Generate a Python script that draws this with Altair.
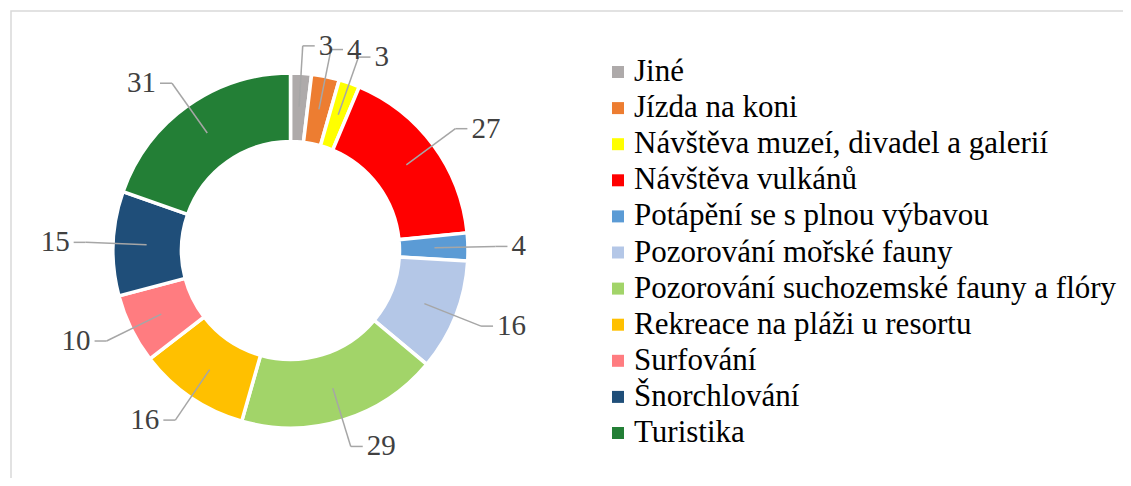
import altair as alt
import pandas as pd

categories = [
    "Jiné",
    "Jízda na koni",
    "Návštěva muzeí, divadel a galerií",
    "Návštěva vulkánů",
    "Potápění se s plnou výbavou",
    "Pozorování mořské fauny",
    "Pozorování suchozemské fauny a flóry",
    "Rekreace na pláži u resortu",
    "Surfování",
    "Šnorchlování",
    "Turistika",
]
values = [3, 4, 3, 27, 4, 16, 29, 16, 10, 15, 31]
colors = [
    "#AEAAAA", "#ED7D31", "#FFFF00", "#FF0000", "#5B9BD5", "#B4C7E7",
    "#A2D469", "#FFC000", "#FF7C80", "#1F4E79", "#237F36",
]

df = pd.DataFrame({"category": categories, "value": values, "order": list(range(len(values)))})

SERIF = "Liberation Serif"
W, H = 1115, 470
CX, CY = 282.5, 242.5
R_OUT, R_IN = 177.5, 109
R0, R1 = 144, 205
TAIL, GAP = 12, 4
# legend layout (plot-area pixels)
LEG_SYM_X, LEG_TXT_X, LEG_Y0, LEG_STEP = 610, 626, 64, 36.1

color_scale = alt.Scale(domain=categories, range=colors)

base = alt.Chart(df).transform_window(
    cum="sum(value)", sort=[{"field": "order"}], frame=[None, 0]
).transform_joinaggregate(
    total="sum(value)"
).transform_calculate(
    mid="(datum.cum - datum.value/2) / datum.total * 2 * PI",
).transform_calculate(
    s="sin(datum.mid)", c="cos(datum.mid)",
).transform_calculate(
    side="datum.s >= 0 ? 1 : -1",
    x0=f"{CX} + {R0} * datum.s",
    y0=f"{CY} - {R0} * datum.c",
    x1=f"{CX} + {R1} * datum.s",
    y1=f"{CY} - {R1} * datum.c",
).transform_calculate(
    x2=f"datum.x1 + {TAIL} * datum.side",
    lx=f"datum.x1 + ({TAIL} + {GAP}) * datum.side",
)

arcs = alt.Chart(df).mark_arc(
    radius=R_OUT, radius2=R_IN, stroke="white", strokeWidth=3.5
).encode(
    theta=alt.Theta("value:Q", stack=True),
    order=alt.Order("order:Q"),
    color=alt.Color("category:N", scale=color_scale, sort=categories, legend=None),
    x=alt.value(CX),
    y=alt.value(CY),
)

lead1 = base.mark_rule(color="#A6A6A6", strokeWidth=1.5).encode(
    x=alt.X("x0:Q", scale=None), y=alt.Y("y0:Q", scale=None),
    x2="x1:Q", y2="y1:Q",
)
lead2 = base.mark_rule(color="#A6A6A6", strokeWidth=1.5).encode(
    x=alt.X("x1:Q", scale=None), y=alt.Y("y1:Q", scale=None),
    x2="x2:Q", y2="y1:Q",
)

text_r = base.transform_filter("datum.side > 0").mark_text(
    align="left", baseline="middle", font=SERIF, fontSize=29, color="#404040"
).encode(x=alt.X("lx:Q", scale=None), y=alt.Y("y1:Q", scale=None), text="value:Q")
text_l = base.transform_filter("datum.side < 0").mark_text(
    align="right", baseline="middle", font=SERIF, fontSize=29, color="#404040"
).encode(x=alt.X("lx:Q", scale=None), y=alt.Y("y1:Q", scale=None), text="value:Q")

# legend drawn as marks
leg = alt.Chart(df).transform_calculate(ly=f"{LEG_Y0} + datum.order * {LEG_STEP}")
leg_sym = leg.mark_square(size=144, opacity=1).encode(
    x=alt.value(LEG_SYM_X),
    y=alt.Y("ly:Q", scale=None),
    color=alt.Color("category:N", scale=color_scale, sort=categories, legend=None),
)
leg_txt = leg.mark_text(
    align="left", baseline="middle", font=SERIF, fontSize=31, color="#000000"
).encode(x=alt.value(LEG_TXT_X), y=alt.Y("ly:Q", scale=None), text="category:N")

frame = alt.Chart(pd.DataFrame({"a": [0]})).mark_rect(
    fill=None, stroke="#D9D9D9", strokeWidth=1.5
).encode(x=alt.value(3), x2=alt.value(1200), y=alt.value(3), y2=alt.value(700))

chart = alt.layer(frame, arcs, lead1, lead2, text_r, text_l, leg_sym, leg_txt).properties(
    width=W, height=H, padding=0, autosize=alt.AutoSizeParams(type="none"),
    background="white",
).configure_view(stroke=None)

chart.save("out.html", embed_options={"renderer": "svg", "actions": False})
